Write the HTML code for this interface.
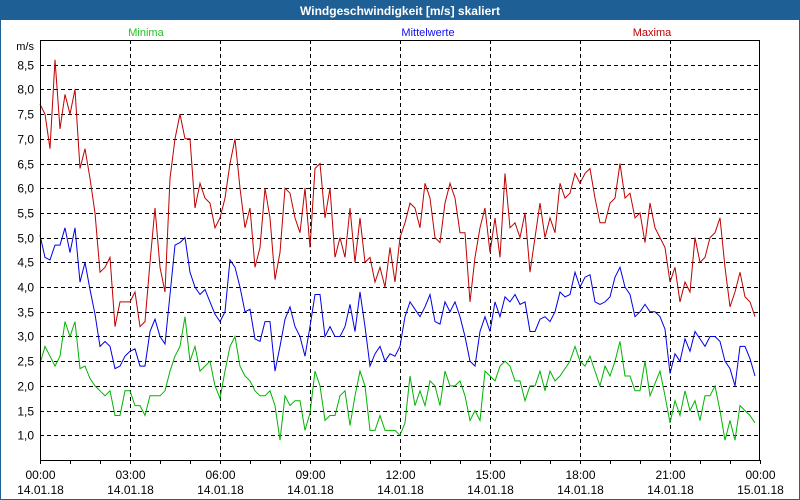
<!DOCTYPE html>
<html><head><meta charset="utf-8"><style>
html,body{margin:0;padding:0;background:#fff;}
svg{display:block;font-family:"Liberation Sans",Tahoma,sans-serif;}
</style></head><body>
<svg id="chart" width="800" height="500" viewBox="0 0 800 500">
<rect x="0.5" y="0.5" width="799" height="499" fill="#fff" stroke="#1e5f96"/>
<rect x="0" y="0" width="800" height="20" fill="#1e5f96"/>
<text x="400" y="15" text-anchor="middle" fill="#fff" font-size="12" font-weight="bold">Windgeschwindigkeit [m/s] skaliert</text>
<text x="146" y="36" text-anchor="middle" fill="#22c022" font-size="11">Minima</text>
<text x="428" y="36" text-anchor="middle" fill="#1010ee" font-size="11">Mittelwerte</text>
<text x="652" y="36" text-anchor="middle" fill="#c00000" font-size="11">Maxima</text>
<text x="34" y="50" text-anchor="end" font-size="11" fill="#000">m/s</text>
<g id="grid"></g>
<g id="series"></g>
<g id="axes"></g>
</svg>
<script>
const yTicks = [1.0,1.5,2.0,2.5,3.0,3.5,4.0,4.5,5.0,5.5,6.0,6.5,7.0,7.5,8.0,8.5];
const xTickHours = [0,3,6,9,12,15,18,21,24];
const xTimeLabels = ["00:00","03:00","06:00","09:00","12:00","15:00","18:00","21:00","00:00"];
const xDateLabels = ["14.01.18","14.01.18","14.01.18","14.01.18","14.01.18","14.01.18","14.01.18","14.01.18","15.01.18"];
const maxima = [7.7,7.5,6.8,8.6,7.2,7.9,7.5,8.0,6.4,6.8,6.2,5.5,4.3,4.4,4.6,3.2,3.7,3.7,3.7,3.9,3.2,3.3,4.5,5.6,4.4,3.9,6.2,7.0,7.5,7.0,7.0,5.6,6.1,5.8,5.7,5.2,5.4,5.8,6.5,7.0,6.0,5.2,5.6,4.4,4.8,6.0,5.4,4.15,4.7,6.0,5.9,5.4,5.1,6.0,4.8,6.4,6.5,5.4,6.0,4.6,5.0,4.6,5.6,4.5,5.4,4.5,4.6,4.1,4.4,4.0,4.8,4.1,5.0,5.3,5.7,5.6,5.2,6.1,5.8,5.0,4.9,5.7,6.1,5.8,5.1,5.1,3.7,4.6,5.2,5.6,4.7,5.4,4.6,6.3,5.2,5.3,5.0,5.5,4.3,5.0,5.7,5.0,5.4,5.1,6.1,5.8,5.9,6.3,6.1,6.3,6.4,5.8,5.3,5.3,5.7,5.8,6.5,5.8,5.9,5.4,5.5,4.9,5.7,5.2,5.0,4.8,4.1,4.4,3.7,4.1,3.9,5.0,4.5,4.6,5.0,5.1,5.4,4.4,3.6,3.9,4.3,3.8,3.7,3.4];
const mittelwerte = [5.05,4.6,4.55,4.85,4.85,5.2,4.7,5.2,4.1,4.5,3.95,3.45,2.8,2.9,2.8,2.35,2.4,2.6,2.7,2.75,2.4,2.4,3.1,3.35,3.0,2.85,3.85,4.85,4.9,5.0,4.3,4.0,3.85,3.95,3.7,3.45,3.3,3.5,4.55,4.4,4.0,3.5,3.55,2.95,2.9,3.3,3.3,2.3,2.8,3.35,3.6,3.2,3.0,2.6,3.2,3.85,3.85,3.0,3.2,3.0,3.0,3.2,3.65,3.1,3.9,3.2,2.4,2.65,2.8,2.5,2.65,2.6,2.8,3.4,3.7,3.55,3.4,3.6,3.85,3.3,3.25,3.7,3.5,3.7,3.4,3.0,2.5,2.4,3.1,3.4,3.1,3.7,3.4,3.8,3.7,3.85,3.65,3.7,3.1,3.1,3.35,3.4,3.3,3.5,3.9,3.8,3.85,4.3,4.0,4.2,4.25,3.7,3.65,3.7,3.8,4.2,4.4,4.0,3.85,3.4,3.5,3.65,3.5,3.5,3.4,3.15,2.25,2.65,2.5,2.95,2.7,3.1,2.95,2.8,3.0,3.0,2.9,2.5,2.35,2.0,2.8,2.8,2.55,2.2];
const minima = [2.45,2.8,2.6,2.4,2.6,3.3,3.0,3.3,2.35,2.4,2.15,2.0,1.9,1.8,1.9,1.4,1.4,1.9,1.9,1.6,1.6,1.4,1.8,1.8,1.8,1.9,2.3,2.6,2.8,3.4,2.5,2.8,2.3,2.4,2.5,2.0,1.75,2.3,2.8,3.0,2.4,2.2,2.1,1.9,1.8,1.8,1.9,1.6,0.9,1.8,1.6,1.7,1.7,1.1,1.45,2.3,2.0,1.3,1.4,1.4,1.8,1.9,1.2,1.8,2.3,2.0,1.1,1.1,1.4,1.1,1.1,1.1,1.0,1.25,2.2,1.6,1.9,1.6,2.1,2.0,1.6,2.3,2.0,2.0,2.1,1.8,1.3,1.5,1.3,2.3,2.2,2.1,2.4,2.5,2.4,2.1,2.1,1.7,2.0,2.0,2.3,1.9,2.3,2.1,2.2,2.35,2.5,2.8,2.5,2.4,2.6,2.3,2.0,2.4,2.2,2.5,2.9,2.2,2.2,1.9,1.9,2.5,1.8,2.05,2.3,1.8,1.25,1.7,1.4,1.9,1.5,1.7,1.3,1.8,1.8,2.0,1.5,0.9,1.3,0.9,1.6,1.5,1.4,1.25];
const NS='http://www.w3.org/2000/svg';
const L=40,R=760,T=40,B=460,YMIN=0.5,YMAX=9.0;
function yScale(v){return B-(v-YMIN)/(YMAX-YMIN)*(B-T);}
function xScaleHour(h){return L+h/24*(R-L);}
function xIndex(i){return xScaleHour(i/6);}
function mk(tag,attrs,parent){const e=document.createElementNS(NS,tag);for(const k in attrs)e.setAttribute(k,attrs[k]);parent.appendChild(e);return e;}
const grid=document.getElementById('grid'),axes=document.getElementById('axes'),series=document.getElementById('series');
yTicks.forEach(v=>{
  const y=Math.round(yScale(v))+0.5;
  const g=mk('line',{x1:L,x2:R,y1:y,y2:y,stroke:'#000','stroke-dasharray':'4,3','stroke-width':1},grid);
  
  
  const t=mk('text',{x:34,y:y+4,'text-anchor':'end','font-size':12,fill:'#000'},axes);
  t.textContent=v.toFixed(1).replace('.',',');
  
  
});
xTickHours.forEach((h,i)=>{
  const x=Math.round(xScaleHour(h))+0.5;
  if(h>0&&h<24){
    const g=mk('line',{x1:x,x2:x,y1:T,y2:B,stroke:'#000','stroke-dasharray':'4,3','stroke-width':1},grid);
    
    
  }
  const t1=mk('text',{x:x,y:479,'text-anchor':'middle','font-size':12,fill:'#000'},axes);
  t1.textContent=xTimeLabels[i];
  
  
  const t2=mk('text',{x:x,y:494,'text-anchor':'middle','font-size':12,fill:'#000'},axes);
  t2.textContent=xDateLabels[i];
  
  
});
for(let h=0;h<=24;h++){
  const x=Math.round(xScaleHour(h))+0.5;
  const tk=mk('line',{x1:x,x2:x,y1:B,y2:B+4,stroke:'#000'},axes);
  
  
}
const frame=mk('rect',{x:L+0.5,y:T+0.5,width:R-L-1,height:B-T,fill:'none',stroke:'#000'},axes);


function drawLine(data,color,name){
  const pts=data.map((v,i)=>xIndex(i).toFixed(1)+','+yScale(v).toFixed(1)).join(' ');
  const p=mk('polyline',{points:pts,fill:'none',stroke:color,'stroke-width':1},series);
  
  
}
drawLine(minima,'#00b400','minima-line');
drawLine(mittelwerte,'#0000e6','mittelwerte-line');
drawLine(maxima,'#c00000','maxima-line');
</script>
</body></html>
